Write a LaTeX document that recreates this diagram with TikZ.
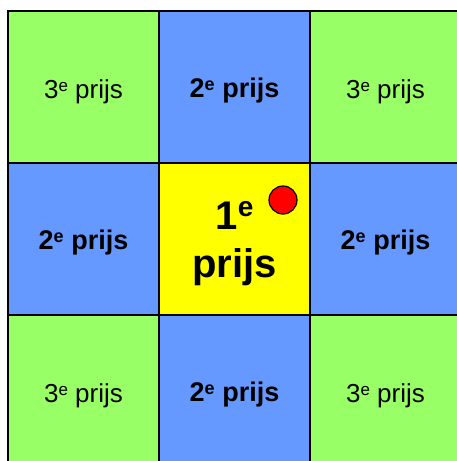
\documentclass[tikz,border=0pt]{standalone}
\usepackage{fontspec}
\setmainfont{Liberation Sans}
\definecolor{cgreen}{HTML}{99FF66}
\definecolor{cblue}{HTML}{6699FF}
\definecolor{cyellow}{HTML}{FFFF00}
\definecolor{cred}{HTML}{FF0000}
\newcommand\ee[2]{\raisebox{#2}{\fontsize{#1}{#1}\selectfont e}}
\begin{document}
\begin{tikzpicture}[x=1pt,y=-1pt,
  cell/.style={draw=black,line width=1.5pt,minimum width=151pt,minimum height=152pt,inner sep=0pt},
  third/.style={anchor=base,font=\fontsize{26}{30}\selectfont},
  second/.style={anchor=base,font=\fontsize{27}{30}\selectfont\bfseries},
  first/.style={align=center,font=\fontsize{40}{48}\selectfont\bfseries},
  dotstyle/.style={circle,draw=black,fill=cred,line width=1.2pt,minimum size=28pt,inner sep=0pt}]
\useasboundingbox (0,0) rectangle (457,461);
\clip (0,0) rectangle (457,461);
\fill[white] (0,0) rectangle (457,461);
% cells
\node[cell,fill=cgreen] (c11) at (83.5,87) {};
\node[cell,fill=cblue] (c12) at (234.5,87) {};
\node[cell,fill=cgreen] (c13) at (385.5,87) {};
\node[cell,fill=cblue] (c21) at (83.5,239) {};
\node[cell,fill=cyellow] (c22) at (234.5,239) {};
\node[cell,fill=cblue] (c23) at (385.5,239) {};
\node[cell,fill=cgreen] (c31) at (83.5,391) {};
\node[cell,fill=cblue] (c32) at (234.5,391) {};
\node[cell,fill=cgreen] (c33) at (385.5,391) {};
% labels
\node[third] (t11) at ([yshift=-11pt]c11.center) {3\ee{17}{6.5pt} prijs};
\node[second] (t12) at ([yshift=-10pt]c12.center) {2\ee{18}{7pt} prijs};
\node[third] (t13) at ([yshift=-11pt]c13.center) {3\ee{17}{6.5pt} prijs};
\node[second] (t21) at ([yshift=-10pt]c21.center) {2\ee{18}{7pt} prijs};
\node[second] (t23) at ([yshift=-10pt]c23.center) {2\ee{18}{7pt} prijs};
\node[third] (t31) at ([yshift=-11pt]c31.center) {3\ee{17}{6.5pt} prijs};
\node[second] (t32) at ([yshift=-10pt]c32.center) {2\ee{18}{7pt} prijs};
\node[third] (t33) at ([yshift=-11pt]c33.center) {3\ee{17}{6.5pt} prijs};
\node[first] (t22) at (234.5,244) {1\ee{28}{13pt}\\prijs};
\node[dotstyle] (dot) at (283,200) {};
\end{tikzpicture}
\end{document}
